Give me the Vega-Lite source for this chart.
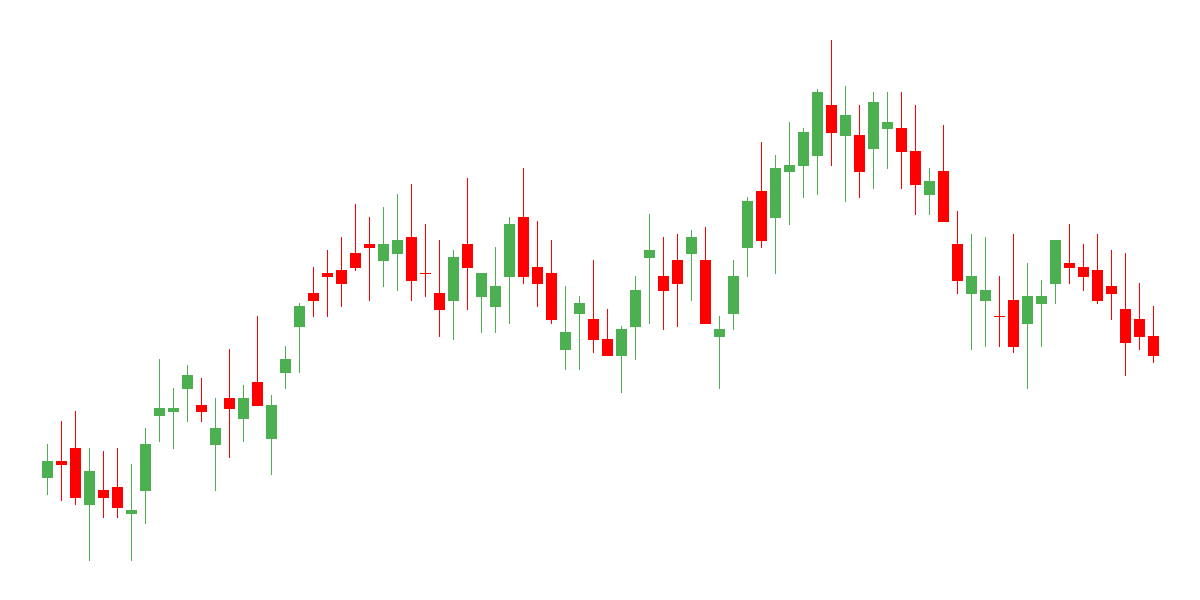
{
  "$schema": "https://vega.github.io/schema/vega-lite/v6.json",
  "autosize": {"type": "none"},
  "width": 1200,
  "height": 600,
  "padding": 0,
  "background": "white",
  "config": {"view": {"stroke": null}},
  "data": {"values": [
    {"i":0,"open":122,"close":139,"high":156,"low":105},
    {"i":1,"open":139,"close":135,"high":179,"low":99},
    {"i":2,"open":152,"close":102,"high":189,"low":95},
    {"i":3,"open":95,"close":129,"high":152,"low":39},
    {"i":4,"open":110,"close":102,"high":149,"low":82},
    {"i":5,"open":113,"close":92,"high":152,"low":82},
    {"i":6,"open":86,"close":90,"high":136,"low":39},
    {"i":7,"open":109,"close":156,"high":172,"low":76},
    {"i":8,"open":184,"close":192,"high":241,"low":158},
    {"i":9,"open":188,"close":192,"high":212,"low":151},
    {"i":10,"open":211,"close":225,"high":235,"low":178},
    {"i":11,"open":195,"close":188,"high":222,"low":178},
    {"i":12,"open":155,"close":172,"high":202,"low":109},
    {"i":13,"open":202,"close":191,"high":251,"low":142},
    {"i":14,"open":181,"close":202,"high":215,"low":158},
    {"i":15,"open":218,"close":194,"high":284,"low":194},
    {"i":16,"open":161,"close":195,"high":205,"low":125},
    {"i":17,"open":227,"close":241,"high":254,"low":211},
    {"i":18,"open":273,"close":294,"high":297,"low":227},
    {"i":19,"open":307,"close":299,"high":333,"low":283},
    {"i":20,"open":327,"close":323,"high":350,"low":283},
    {"i":21,"open":330,"close":316,"high":363,"low":293},
    {"i":22,"open":347,"close":332,"high":396,"low":329},
    {"i":23,"open":356,"close":352,"high":383,"low":299},
    {"i":24,"open":339,"close":356,"high":393,"low":313},
    {"i":25,"open":346,"close":360,"high":406,"low":309},
    {"i":26,"open":363,"close":319,"high":416,"low":299},
    {"i":27,"open":327,"close":326,"high":376,"low":303},
    {"i":28,"open":307,"close":290,"high":360,"low":263},
    {"i":29,"open":299,"close":343,"high":350,"low":260},
    {"i":30,"open":356,"close":332,"high":422,"low":290},
    {"i":31,"open":303,"close":327,"high":327,"low":267},
    {"i":32,"open":293,"close":314,"high":353,"low":267},
    {"i":33,"open":323,"close":376,"high":383,"low":276},
    {"i":34,"open":383,"close":323,"high":432,"low":316},
    {"i":35,"open":333,"close":316,"high":379,"low":293},
    {"i":36,"open":327,"close":280,"high":360,"low":276},
    {"i":37,"open":250,"close":268,"high":314,"low":230},
    {"i":38,"open":286,"close":297,"high":304,"low":230},
    {"i":39,"open":281,"close":260,"high":340,"low":247},
    {"i":40,"open":261,"close":244,"high":291,"low":244},
    {"i":41,"open":244,"close":271,"high":274,"low":207},
    {"i":42,"open":273,"close":310,"high":324,"low":240},
    {"i":43,"open":342,"close":350,"high":386,"low":276},
    {"i":44,"open":324,"close":309,"high":363,"low":270},
    {"i":45,"open":340,"close":316,"high":366,"low":273},
    {"i":46,"open":346,"close":363,"high":370,"low":299},
    {"i":47,"open":340,"close":276,"high":373,"low":276},
    {"i":48,"open":263,"close":271,"high":284,"low":211},
    {"i":49,"open":286,"close":324,"high":340,"low":270},
    {"i":50,"open":352,"close":399,"high":403,"low":323},
    {"i":51,"open":409,"close":359,"high":458,"low":352},
    {"i":52,"open":382,"close":432,"high":445,"low":326},
    {"i":53,"open":428,"close":435,"high":478,"low":375},
    {"i":54,"open":434,"close":468,"high":472,"low":402},
    {"i":55,"open":444,"close":508,"high":511,"low":405},
    {"i":56,"open":495,"close":467,"high":560,"low":434},
    {"i":57,"open":464,"close":485,"high":514,"low":398},
    {"i":58,"open":465,"close":428,"high":495,"low":402},
    {"i":59,"open":451,"close":498,"high":508,"low":411},
    {"i":60,"open":471,"close":478,"high":508,"low":431},
    {"i":61,"open":472,"close":448,"high":508,"low":411},
    {"i":62,"open":449,"close":415,"high":495,"low":385},
    {"i":63,"open":405,"close":419,"high":432,"low":385},
    {"i":64,"open":429,"close":378,"high":475,"low":378},
    {"i":65,"open":356,"close":319,"high":389,"low":306},
    {"i":66,"open":306,"close":324,"high":366,"low":250},
    {"i":67,"open":299,"close":310,"high":363,"low":253},
    {"i":68,"open":284,"close":283,"high":324,"low":253},
    {"i":69,"open":300,"close":253,"high":366,"low":247},
    {"i":70,"open":276,"close":304,"high":337,"low":211},
    {"i":71,"open":296,"close":304,"high":320,"low":253},
    {"i":72,"open":316,"close":360,"high":360,"low":296},
    {"i":73,"open":337,"close":332,"high":376,"low":316},
    {"i":74,"open":333,"close":323,"high":356,"low":309},
    {"i":75,"open":330,"close":299,"high":366,"low":296},
    {"i":76,"open":314,"close":306,"high":350,"low":280},
    {"i":77,"open":291,"close":257,"high":347,"low":224},
    {"i":78,"open":281,"close":263,"high":317,"low":250},
    {"i":79,"open":264,"close":244,"high":294,"low":237}
  ]},
  "encoding": {
    "x": {"field": "i", "type": "quantitative", "scale": {"domain": [-3.392857, 82.321429], "nice": false, "zero": false, "padding": 0}, "axis": null},
    "color": {"condition": {"test": "datum.close > datum.open", "value": "#4CAF50"}, "value": "#FF0000"}
  },
  "layer": [
    {
      "mark": {"type": "rule", "strokeWidth": 1},
      "encoding": {
        "y": {"field": "low", "type": "quantitative", "scale": {"domain": [0, 600], "nice": false, "zero": false}, "axis": null},
        "y2": {"field": "high"}
      }
    },
    {
      "mark": {"type": "bar", "size": 11},
      "encoding": {
        "y": {"field": "open", "type": "quantitative", "scale": {"domain": [0, 600], "nice": false, "zero": false}, "axis": null},
        "y2": {"field": "close"}
      }
    }
  ]
}
